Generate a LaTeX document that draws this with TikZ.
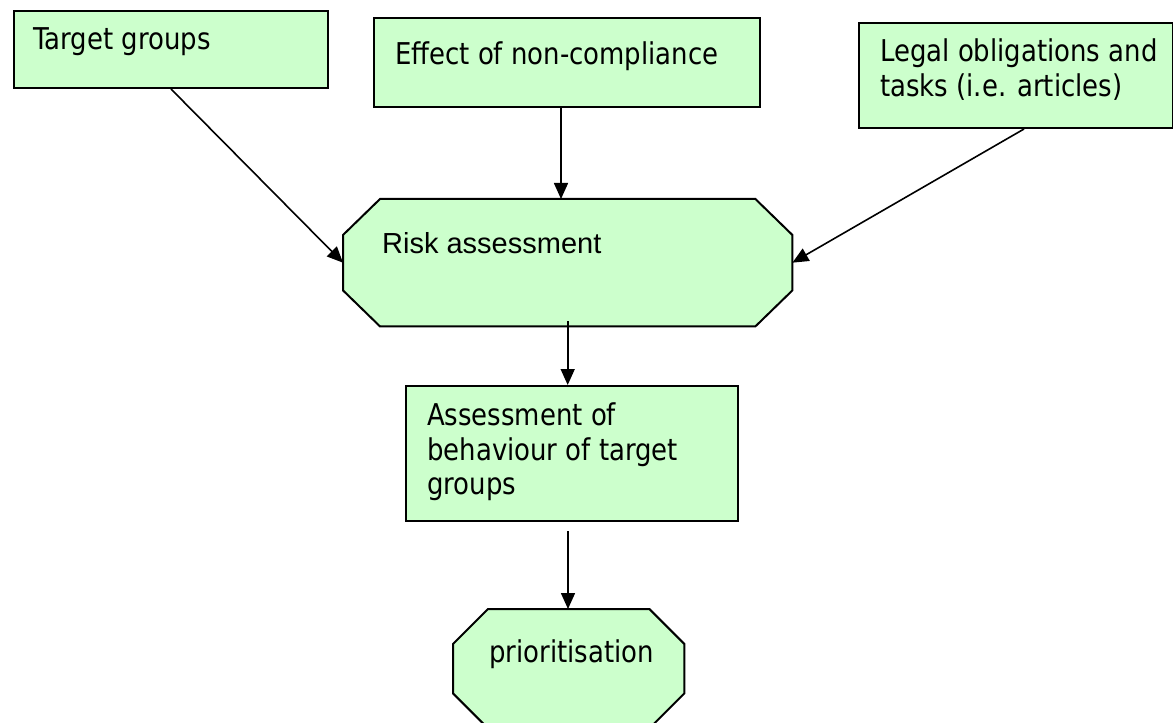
\documentclass[tikz,border=0pt]{standalone}
\usepackage{fontspec}
\newfontfamily\tah[FakeStretch=0.865]{DejaVu Sans}
\newfontfamily\ari{Liberation Sans}
\usetikzlibrary{arrows.meta}
\definecolor{boxgreen}{HTML}{CCFFCC}
\begin{document}
\begin{tikzpicture}[x=1bp,y=-1bp,
  box/.style={draw=black, line width=2bp, fill=boxgreen, rectangle, inner sep=0pt, anchor=north west},
  hold/.style={draw=none, rectangle, inner sep=0pt, anchor=north west},
  octa/.style={draw=black, line width=2bp, fill=boxgreen, line join=miter},
  lbl/.style={anchor=base west, inner sep=0pt, font=\tah\fontsize{30bp}{35bp}\selectfont, align=left},
  albl/.style={anchor=base west, inner sep=0pt, font=\ari\fontsize{29bp}{35bp}\selectfont, align=left},
  arr/.style={draw=black, line width=1.6bp, -{Triangle[length=16bp,width=14bp]}}
]
\useasboundingbox (0,0) rectangle (1173,723);
\clip (0,0) rectangle (1173,723);

% boxes
\node[box, minimum width=314bp, minimum height=77bp] (target) at (13,10) {};
\node[box, minimum width=386bp, minimum height=89bp] (eff) at (373,17) {};
\node[box, minimum width=314bp, minimum height=105bp] (legal) at (858,22) {};
\node[box, minimum width=332bp, minimum height=135bp] (assess) at (405,385) {};

% octagons
\node[hold, minimum width=449bp, minimum height=127bp] (risk) at (343,199) {};
\path[octa] ([xshift=37bp]risk.north west) -- ([xshift=-37bp]risk.north east)
  -- ([yshift=-36bp]risk.north east) -- ([yshift=36bp]risk.south east)
  -- ([xshift=-37bp]risk.south east) -- ([xshift=37bp]risk.south west)
  -- ([yshift=36bp]risk.south west) -- ([yshift=-36bp]risk.north west) -- cycle;

\node[hold, minimum width=231bp, minimum height=119bp] (prio) at (453,609) {};
\path[octa] ([xshift=35bp]prio.north west) -- ([xshift=-35bp]prio.north east)
  -- ([yshift=-35bp]prio.north east) -- ([yshift=35bp]prio.south east)
  -- ([xshift=-35bp]prio.south east) -- ([xshift=35bp]prio.south west)
  -- ([yshift=35bp]prio.south west) -- ([yshift=-35bp]prio.north west) -- cycle;

% texts
\node[lbl] (ttarget) at (33,50) {Target groups};
\node[lbl] (teff) at (395,65) {Effect of non-compliance};
\node[lbl] (tlegal1) at (880,62) {Legal obligations and};
\node[lbl] (tlegal2) at (880,97) {tasks (i.e. articles)};
\node[albl] (trisk) at (382,253) {Risk assessment};
\node[lbl] (tassess1) at (427,425) {Assessment of};
\node[lbl] (tassess2) at (427,460) {behaviour of target};
\node[lbl] (tassess3) at (427,494) {groups};
\node[lbl] (tprio) at (489,662) {prioritisation};

% connectors
\draw[arr] (target.south) -- (risk.west);
\draw[arr] ([xshift=-6bp]eff.south) -- ([xshift=-6bp]eff.south |- risk.north);
\draw[arr] ([xshift=8bp]legal.south) -- (risk.east);
\draw[arr] ([yshift=5bp]risk.south) -- (risk.south |- assess.north);
\draw[arr] ([xshift=-4bp,yshift=-9bp]assess.south) -- ([xshift=-4bp]assess.south |- prio.north);
\end{tikzpicture}
\end{document}
